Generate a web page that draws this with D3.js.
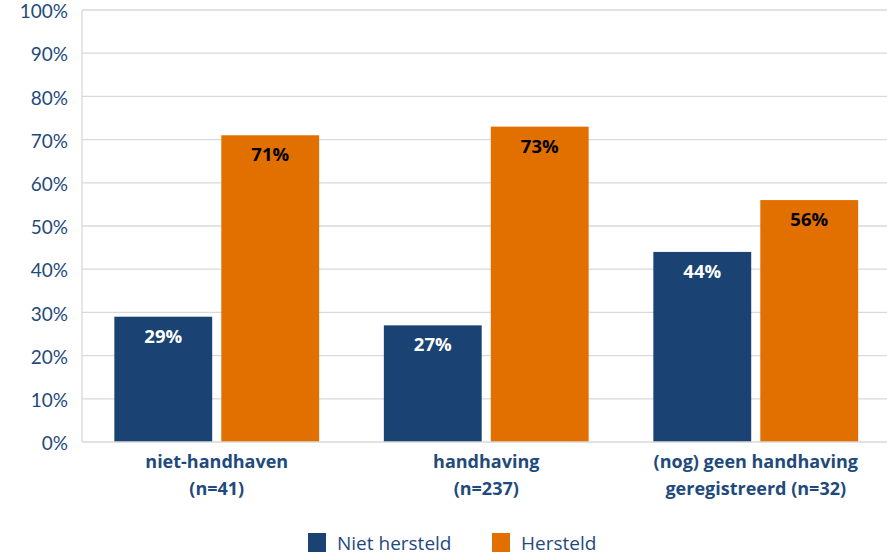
<!DOCTYPE html>
<html><head><meta charset="utf-8">
<script src="https://cdn.jsdelivr.net/npm/d3@7"></script>
<style>body{margin:0;background:#fff;}svg{display:block;font-family:"Open Sans",sans-serif;}</style>
</head><body><svg id="c" width="887" height="555"></svg>
<script>
const categories = [["niet-handhaven","(n=41)"],["handhaving","(n=237)"],["(nog) geen handhaving","geregistreerd (n=32)"]];
const seriesNames = ["Niet hersteld","Hersteld"];
const nietHersteld = [29,27,44];
const hersteld = [71,73,56];
const tickValues = [0,10,20,30,40,50,60,70,80,90,100];
const colors = ["#1a4273","#e17000"];
const labelColors = ["#ffffff","#000000"];
const textColor = "#1f4a7c";

(function(){
const svg = d3.select("#c");
const mLeft = 82, mRight = 890.5, mTop = 10, mBottom = 442;
const x = d3.scaleBand().domain(d3.range(categories.length)).range([mLeft,mRight]).paddingInner(0.24).paddingOuter(0.12);
const x1 = d3.scaleBand().domain(d3.range(2)).range([0,x.bandwidth()]).paddingInner(0.085);
const y = d3.scaleLinear().domain([0,100]).range([mBottom,mTop]);

svg.append("g").selectAll("line").data(tickValues.filter(d=>d>0)).join("line")
  .attr("x1",mLeft).attr("x2",887).attr("y1",d=>y(d)).attr("y2",d=>y(d))
  .attr("stroke","#d9d9d9").attr("stroke-width",1.3);
svg.append("line").attr("x1",mLeft).attr("x2",mLeft).attr("y1",mTop).attr("y2",mBottom).attr("stroke","#d9d9d9").attr("stroke-width",1.3);

const yAxis = d3.axisLeft(y).tickValues(tickValues).tickFormat(d=>d+"%").tickSize(0).tickPadding(14);
const ga = svg.append("g").attr("transform",`translate(${mLeft},0)`).call(yAxis);
ga.select(".domain").remove();
ga.selectAll("text").attr("fill",textColor).attr("font-size",19).attr("font-family","Lato, sans-serif").attr("dy","0.4em");

const series = [nietHersteld, hersteld];
series.forEach((vals,si)=>{
  const g = svg.append("g");
  g.selectAll("rect").data(vals).join("rect")
    .attr("x",(d,i)=>x(i)+x1(si)).attr("width",x1.bandwidth())
    .attr("y",d=>y(d)).attr("height",d=>y(0)-y(d)).attr("fill",colors[si]);
  g.selectAll("text").data(vals).join("text")
    .attr("x",(d,i)=>x(i)+x1(si)+x1.bandwidth()/2).attr("y",d=>y(d)+26)
    .attr("text-anchor","middle").attr("font-weight","bold").attr("font-size",18.5)
    .attr("fill",labelColors[si]).text(d=>d+"%");
});
svg.append("line").attr("x1",mLeft).attr("x2",887).attr("y1",mBottom).attr("y2",mBottom).attr("stroke","#d9d9d9").attr("stroke-width",1.5);

const cl = svg.append("g");
categories.forEach((lines,i)=>{
  const t = cl.append("text").attr("x",x(i)+x.bandwidth()/2).attr("y",468)
    .attr("text-anchor","middle").attr("font-weight","bold").attr("font-size",18).attr("fill",textColor);
  lines.forEach((l,j)=>t.append("tspan").attr("x",x(i)+x.bandwidth()/2).attr("dy",j===0?0:27).text(l));
});

const legX = [308,492];
const lg = svg.append("g");
seriesNames.forEach((n,i)=>{
  lg.append("rect").attr("x",legX[i]).attr("y",533).attr("width",18).attr("height",19).attr("fill",colors[i]);
  lg.append("text").attr("x",legX[i]+29).attr("y",550).attr("font-size",19).attr("fill",textColor).text(n);
});
})();
</script></body></html>
